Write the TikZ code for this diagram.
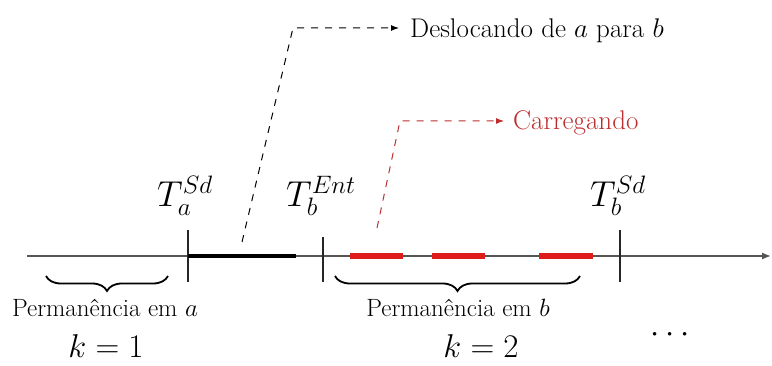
\RequirePackage{fix-cm}
\documentclass[tikz,border=0pt]{standalone}
\usetikzlibrary{arrows.meta,decorations.pathreplacing}
\definecolor{axisgray}{RGB}{85,85,85}
\definecolor{loadred}{RGB}{222,28,28}
\definecolor{labelred}{RGB}{190,45,45}
\begin{document}
\begin{tikzpicture}[x=1pt,y=-1pt,
  axisline/.style={line width=1.3pt, draw=axisgray},
  tickmark/.style={line width=1.3pt, draw=black!85},
  travel/.style={line width=3.5pt, draw=black},
  loading/.style={line width=6pt, draw=loadred},
  callout/.style={dash pattern=on 7pt off 7pt, line width=1pt, -{Latex[length=8pt,width=6pt]}},
  bracestyle/.style={decorate, decoration={brace, mirror, amplitude=15pt}, line width=1.8pt},
  tlabel/.style={font=\fontsize{36}{40}\selectfont, inner sep=0pt},
  txt/.style={font=\fontsize{27}{31}\selectfont, inner sep=0pt},
  smalltxt/.style={font=\fontsize{25}{29}\selectfont, inner sep=0pt},
  klabel/.style={font=\fontsize{33}{37}\selectfont, inner sep=0pt}]
\useasboundingbox (0,0) rectangle (772,366);

% axis
\coordinate (ax0) at (27,256);
\coordinate (ax1) at (771,256);
\draw[axisline,-{Latex[length=9pt,width=7pt]}] (ax0) -- (ax1);

% ticks
\coordinate (ta1) at (188,230); \coordinate (ta2) at (188,282);
\coordinate (tb1) at (323,237); \coordinate (tb2) at (323,282);
\coordinate (tc1) at (620,230); \coordinate (tc2) at (620,282);
\draw[tickmark] (ta1) -- (ta2);
\draw[tickmark] (tb1) -- (tb2);
\draw[tickmark] (tc1) -- (tc2);

% travel segment
\coordinate (s0) at (188,256); \coordinate (s1) at (296,256);
\draw[travel] (s0) -- (s1);

% loading segments
\coordinate (r1a) at (350,256); \coordinate (r1b) at (403,256);
\coordinate (r2a) at (432,256); \coordinate (r2b) at (485,256);
\coordinate (r3a) at (539,256); \coordinate (r3b) at (593,256);
\draw[loading] (r1a) -- (r1b);
\draw[loading] (r2a) -- (r2b);
\draw[loading] (r3a) -- (r3b);

% time labels
\node[tlabel, anchor=base west] (TaSd) at (157,207) {$T_a^{Sd}$};
\node[tlabel, anchor=base west] (TbEnt) at (286,207) {$T_b^{Ent}$};
\node[tlabel, anchor=base west] (TbSd) at (590,207) {$T_b^{Sd}$};

% callouts
\node[txt, anchor=base west] (desl) at (410,38) {Deslocando de $a$ para $b$};
\coordinate (d0) at (242,242);
\coordinate (d1) at (293,28);
\coordinate (d2) at (399,28);
\draw[callout] (d0) -- (d1) -- (d2);

\node[txt, anchor=base west, text=labelred] (carr) at (513,130) {Carregando};
\coordinate (c0) at (377,228);
\coordinate (c1) at (400,121);
\coordinate (c2) at (504,121);
\draw[callout, draw=labelred] (c0) -- (c1) -- (c2);

% braces
\coordinate (b1a) at (46,276); \coordinate (b1b) at (168,276);
\coordinate (b2a) at (335,276); \coordinate (b2b) at (580,276);
\draw[bracestyle] (b1a) -- (b1b);
\draw[bracestyle] (b2a) -- (b2b);

\node[smalltxt, anchor=base] (pa) at (105,317) {Permanência em $a$};
\node[smalltxt, anchor=base] (pb) at (458,317) {Permanência em $b$};
\node[klabel, anchor=base] (k1) at (106,358) {$k=1$};
\node[klabel, anchor=base] (k2) at (481,358) {$k=2$};
\node[klabel] (dots) at (670,335) {$\cdots$};
\end{tikzpicture}
\end{document}
